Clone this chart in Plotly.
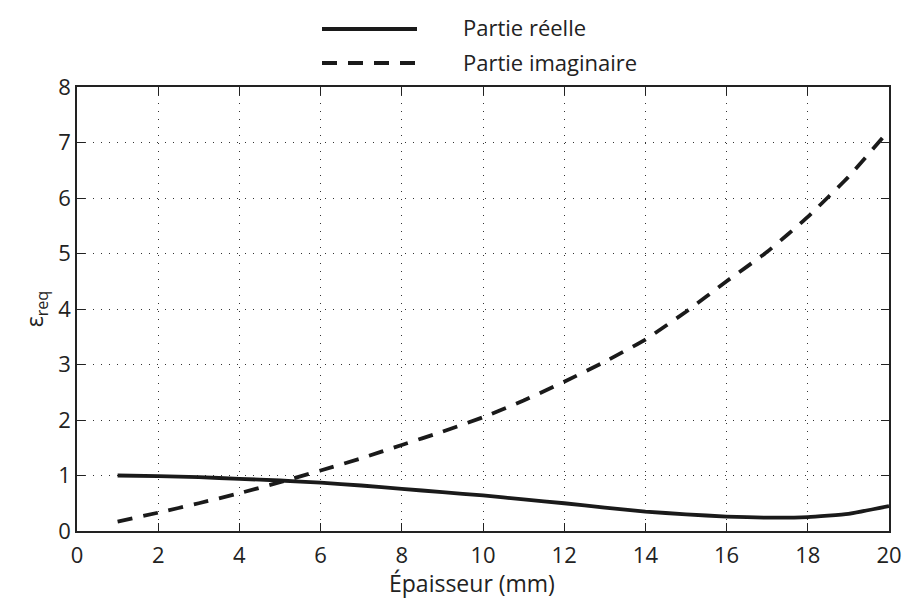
import plotly.graph_objects as go

thickness_mm = [1, 2, 3, 4, 5, 6, 7, 8, 9, 10, 11, 12, 13, 14, 15, 16, 17, 18, 19, 20]
real_part = [1.00, 0.99, 0.97, 0.94, 0.91, 0.87, 0.82, 0.76, 0.70, 0.64,
             0.57, 0.50, 0.42, 0.35, 0.30, 0.26, 0.24, 0.25, 0.31, 0.45]
imag_part = [0.17, 0.33, 0.50, 0.68, 0.88, 1.09, 1.31, 1.55, 1.79, 2.05,
             2.35, 2.69, 3.05, 3.45, 3.95, 4.50, 5.03, 5.66, 6.38, 7.22]
series_names = ["Partie réelle", "Partie imaginaire"]
x_title = "Épaisseur (mm)"
y_title = "ε<sub>req</sub>"
x_ticks = [0, 2, 4, 6, 8, 10, 12, 14, 16, 18, 20]
y_ticks = [0, 1, 2, 3, 4, 5, 6, 7, 8]

FONT = "Open Sans"
INK = "#1a1a1a"
TXT = "#222222"
DASH = "15px,11px"

fig = go.Figure()
fig.add_trace(go.Scatter(x=thickness_mm, y=real_part, mode="lines", name=series_names[0],
                         line=dict(color=INK, width=3.8, shape="spline", smoothing=0.4),
                         showlegend=False))
fig.add_trace(go.Scatter(x=thickness_mm, y=imag_part, mode="lines", name=series_names[1],
                         line=dict(color=INK, width=3.8, dash=DASH, shape="spline", smoothing=0.4),
                         showlegend=False))

# plot area in page pixels: left 77, top 87, width 812, height 444
PL, PT, PW, PH = 77.0, 87.0, 812.0, 444.0
legend_rows = [(series_names[0], "solid", 29, 27), (series_names[1], DASH, 63, 62)]
for name, dash, ypix, typix in legend_rows:
    yp = 1 - (ypix - PT) / PH
    fig.add_shape(type="line", xref="paper", yref="paper",
                  x0=(322 - PL) / PW, x1=(417 - PL) / PW, y0=yp, y1=yp,
                  line=dict(color=INK, width=3.8, dash=dash))
    fig.add_annotation(xref="paper", yref="paper", x=(461 - PL) / PW, y=1 - (typix - PT) / PH,
                       text=name, showarrow=False, xanchor="left", yanchor="middle",
                       font=dict(family=FONT, size=22, color=TXT))

# axis title placed like the reference
fig.add_annotation(xref="paper", yref="paper", x=(472 - PL) / PW, y=-(583 - (PT + PH)) / PH,
                   text=x_title, showarrow=False, xanchor="center", yanchor="middle",
                   font=dict(family=FONT, size=23, color=TXT))

axis_common = dict(showline=True, linecolor="#222222", linewidth=1.6, mirror="ticks",
                   ticks="inside", ticklen=8, tickcolor="#222222", tickwidth=1.2,
                   showgrid=True, gridcolor="#333333", gridwidth=1, griddash="1px,7px",
                   zeroline=False, automargin=False, ticklabeloverflow="allow",
                   tickfont=dict(family=FONT, size=22, color=TXT))

fig.update_xaxes(range=[0, 20], tickvals=x_ticks, ticklabelstandoff=4, **axis_common)
fig.update_yaxes(range=[0, 8], tickvals=y_ticks, **axis_common,
                 title=dict(text=y_title, font=dict(family=FONT, size=23, color=TXT), standoff=8))

fig.update_layout(width=903, height=598, plot_bgcolor="white", paper_bgcolor="white",
                  margin=dict(l=77, r=14, t=87, b=67), font=dict(family=FONT))
fig.write_html("out.html", config={"displayModeBar": False},
               post_script="document.body.style.margin='0';document.body.style.overflow='hidden';")
